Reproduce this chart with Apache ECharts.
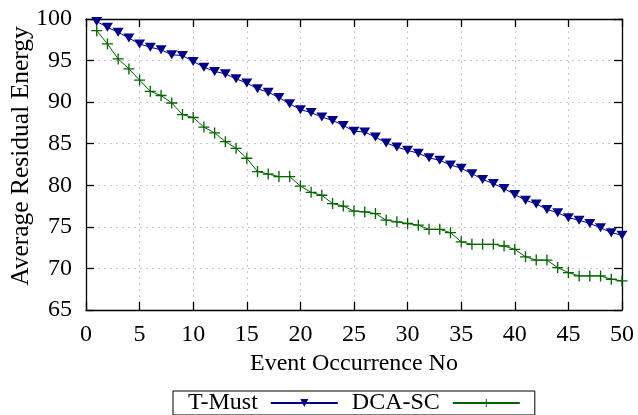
<!DOCTYPE html>
<html><head><meta charset="utf-8">
<script src="https://cdn.jsdelivr.net/npm/echarts@6/dist/echarts.min.js"></script>
<style>html,body{margin:0;padding:0;background:#fff}#c{width:638px;height:415px}</style>
</head><body><div id="c"></div>
<script>
const xValues = [1,2,3,4,5,6,7,8,9,10,11,12,13,14,15,16,17,18,19,20,21,22,23,24,25,26,27,28,29,30,31,32,33,34,35,36,37,38,39,40,41,42,43,44,45,46,47,48,49,50];
const tMust = [99.7,99.0,98.4,97.7,97.0,96.6,96.3,95.7,95.6,94.9,
  94.2,93.7,93.4,92.8,92.3,91.6,91.2,90.55,89.8,89.1,
  88.75,88.2,87.8,87.2,86.5,86.4,85.8,85.1,84.6,84.2,
  83.85,83.3,83.0,82.45,82.05,81.4,80.7,80.2,79.6,78.9,
  78.2,77.75,77.1,76.7,76.1,75.8,75.4,74.9,74.3,74.0];
const dcaSc = [98.6,97.0,95.2,94.0,92.65,91.3,90.8,89.9,88.5,88.15,
  87.0,86.3,85.25,84.45,83.25,81.65,81.35,81.05,81.05,79.9,
  79.15,78.8,77.8,77.5,76.9,76.8,76.6,75.8,75.6,75.4,
  75.2,74.7,74.7,74.3,73.2,72.9,72.9,72.9,72.7,72.3,
  71.4,71.0,71.0,70.1,69.5,69.1,69.1,69.1,68.7,68.5];
const seriesNames = ['T-Must','DCA-SC'];
const xTitle = 'Event Occurrence No';
const yTitle = 'Average Residual Energy';

const font = 'Liberation Serif';
const fs = 24;
const plus = 'path://M4.4,0h1.2v4.4h4.4v1.2h-4.4v4.4h-1.2v-4.4h-4.4v-1.2h4.4z';
const chart = echarts.init(document.getElementById('c'), null, {renderer:'canvas'});
const gridLine = {show:true, lineStyle:{color:'#c8c8c8', type:[2,4], width:1}};
const axLine = {show:true, onZero:false, lineStyle:{color:'#000', width:1.3}};
const tick = {show:true, inside:true, length:8, lineStyle:{color:'#000', width:1.3}};
chart.setOption({
  animation:false,
  textStyle:{fontFamily:font},
  grid:{left:86, right:16, top:19, bottom:105, containLabel:false, outerBoundsMode:'none'},
  graphic:[{
    type:'text', x:21, y:156, rotation:Math.PI/2,
    style:{text:yTitle, fontFamily:font, fontSize:25.5, fill:'#000', align:'center', verticalAlign:'middle'}
  }],
  xAxis:[{
    type:'value', min:0, max:50, interval:5,
    name:xTitle, nameLocation:'middle', nameGap:36,
    nameTextStyle:{fontFamily:font, fontSize:fs, color:'#000'},
    axisLine:axLine, axisTick:tick, splitLine:gridLine,
    axisLabel:{fontFamily:font, fontSize:fs, color:'#000', margin:13}
  },{
    type:'value', position:'top', min:0, max:50, interval:5,
    axisLine:axLine, axisTick:tick, splitLine:{show:false}, axisLabel:{show:false}
  }],
  yAxis:[{
    type:'value', min:65, max:100, interval:5,
    axisLine:axLine, axisTick:tick, splitLine:gridLine,
    axisLabel:{fontFamily:font, fontSize:fs, color:'#000', margin:14}
  },{
    type:'value', position:'right', min:65, max:100, interval:5,
    axisLine:axLine, axisTick:tick, splitLine:{show:false}, axisLabel:{show:false}
  }],
  legend:{
    left:173, top:391, orient:'horizontal', align:'right',
    borderColor:'#000', borderWidth:1, padding:[0,14,0,15], itemGap:13,
    itemWidth:67, itemHeight:10,
    textStyle:{fontFamily:font, fontSize:fs, color:'#000', lineHeight:23, padding:[0,8,0,0]},
    data:seriesNames
  },
  series:[{
    name:seriesNames[0], type:'line', xAxisIndex:0, yAxisIndex:0,
    data:xValues.map((x,i)=>[x,tMust[i]]),
    symbol:'triangle', symbolRotate:180, symbolSize:[11,9],
    lineStyle:{color:'#00008b', width:1}, itemStyle:{color:'#00008b'}
  },{
    name:seriesNames[1], type:'line', xAxisIndex:0, yAxisIndex:0,
    data:xValues.map((x,i)=>[x,dcaSc[i]]),
    symbol:plus, symbolSize:11,
    lineStyle:{color:'#006400', width:1}, itemStyle:{color:'#006400'}
  }]
});
</script></body></html>
